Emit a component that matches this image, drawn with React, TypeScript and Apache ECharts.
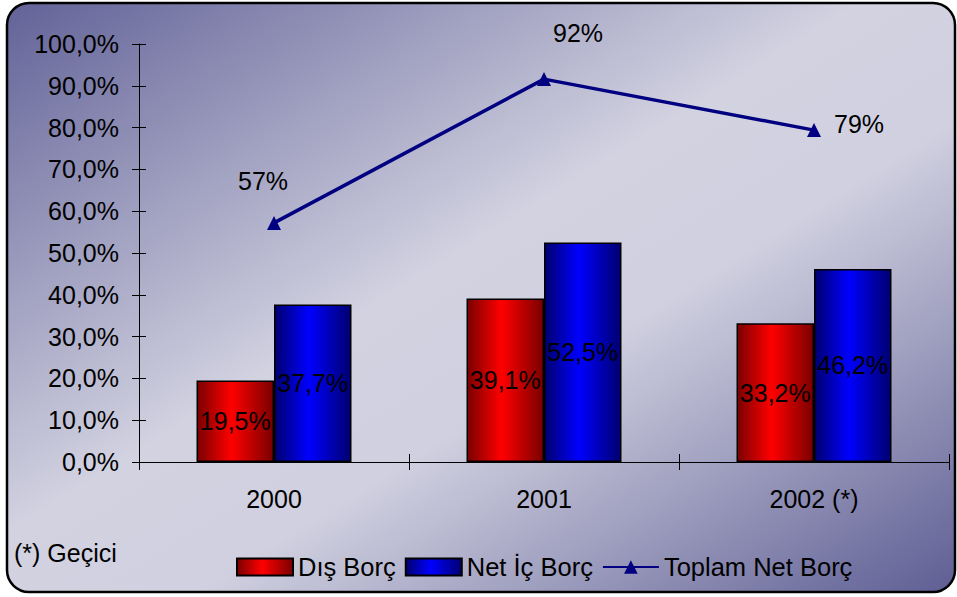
import React, { useEffect, useRef } from "react";
import * as echarts from "echarts";

const categories = ["2000", "2001", "2002 (*)"];
const disBorc = [19.5, 39.1, 33.2];
const netIcBorc = [37.7, 52.5, 46.2];
const toplamNetBorc = [57.2, 91.6, 79.4];
const toplamLabels = ["57%", "92%", "79%"];
const seriesNames = ["Dış Borç", "Net İç Borç", "Toplam Net Borç"];
const footnote = "(*) Geçici";

const FONT = "'Liberation Sans', Arial, Helvetica, sans-serif";

export default function App() {
  const ref = useRef<HTMLDivElement>(null);
  useEffect(() => {
    document.body.style.margin = "0";
    if (!ref.current) return;
    const chart = echarts.init(ref.current, null, { renderer: "svg" });
    const fmtPct = (v: number) => v.toFixed(1).replace(".", ",") + "%";
    const lineOffsets: any[] = [
      { position: "top", offset: [-11, -17] },
      { position: "top", offset: [34, -22] },
      { position: "right", offset: [8, -6] },
    ];
    const redGrad = new echarts.graphic.LinearGradient(0, 0, 1, 0, [
      { offset: 0, color: "#7a0000" },
      { offset: 0.45, color: "#ff0000" },
      { offset: 1, color: "#7a0000" },
    ]);
    const blueGrad = new echarts.graphic.LinearGradient(0, 0, 1, 0, [
      { offset: 0, color: "#000070" },
      { offset: 0.45, color: "#0000ff" },
      { offset: 1, color: "#000070" },
    ]);
    chart.setOption({
      animation: false,
      textStyle: { fontFamily: FONT },
      graphic: [
        {
          type: "rect",
          z: -10,
          silent: true,
          shape: { x: 7, y: 3, width: 948, height: 589, r: 22 },
          style: {
            fill: new echarts.graphic.LinearGradient(0, 0, 1, 1, [
              { offset: 0, color: "#626298" },
              { offset: 0.45, color: "#d2d2e1" },
              { offset: 0.6, color: "#d0d0e0" },
              { offset: 1, color: "#5e5e94" },
            ]),
            stroke: "#000",
            lineWidth: 2.5,
          },
        },
        {
          type: "text",
          left: 14,
          top: 540,
          style: {
            text: footnote,
            fontSize: 25,
            fontFamily: FONT,
            fill: "#000",
          },
        },
      ],
      legend: {
        left: 231,
        top: 549,
        itemWidth: 56,
        itemHeight: 17,
        itemGap: 9,
        textStyle: { fontSize: 25.5, color: "#000", fontFamily: FONT },
        data: [
          { name: seriesNames[0], icon: "rect" },
          { name: seriesNames[1], icon: "rect" },
          { name: seriesNames[2] },
        ],
      },
      grid: { left: 139, right: 8, top: 44, bottom: 135, containLabel: false },
      xAxis: [
        {
          type: "category",
          data: categories,
          axisLine: { lineStyle: { color: "#000", width: 1 } },
          axisTick: { show: true, length: 8, lineStyle: { color: "#000" } },
          axisLabel: { fontSize: 25, color: "#000", margin: 24, fontFamily: FONT },
        },
        {
          type: "category",
          data: categories,
          position: "bottom",
          axisLine: { show: false },
          axisTick: { show: true, inside: true, length: 8, lineStyle: { color: "#000" } },
          axisLabel: { show: false },
        },
      ],
      yAxis: [
        {
          type: "value",
          min: 0,
          max: 100,
          interval: 10,
          splitLine: { show: false },
          axisLine: { show: true, lineStyle: { color: "#000", width: 1 } },
          axisTick: { show: true, length: 7, lineStyle: { color: "#000" } },
          axisLabel: {
            fontSize: 25,
            color: "#000",
            margin: 20,
            fontFamily: FONT,
            formatter: fmtPct,
          },
        },
        {
          type: "value",
          min: 0,
          max: 100,
          interval: 10,
          position: "left",
          splitLine: { show: false },
          axisLine: { show: false },
          axisTick: { show: true, inside: true, length: 7, lineStyle: { color: "#000" } },
          axisLabel: { show: false },
        },
      ],
      series: [
        {
          name: seriesNames[0],
          type: "bar",
          data: disBorc,
          barGap: "0%",
          barCategoryGap: "42.6%",
          itemStyle: { color: redGrad, borderColor: "#000", borderWidth: 1.5, borderRadius: 0 },
          label: {
            show: true,
            position: "inside",
            fontSize: 25,
            color: "#000",
            fontFamily: FONT,
            formatter: (p: any) => fmtPct(p.value),
          },
        },
        {
          name: seriesNames[1],
          type: "bar",
          data: netIcBorc,
          barGap: "0%",
          barCategoryGap: "42.6%",
          itemStyle: { color: blueGrad, borderColor: "#000", borderWidth: 1.5, borderRadius: 0 },
          label: {
            show: true,
            position: "inside",
            fontSize: 25,
            color: "#000",
            fontFamily: FONT,
            formatter: (p: any) => fmtPct(p.value),
          },
        },
        {
          name: seriesNames[2],
          type: "line",
          data: toplamNetBorc.map((v, i) => ({
            value: v,
            label: { ...lineOffsets[i], formatter: toplamLabels[i] },
          })),
          symbol: "triangle",
          symbolSize: 14,
          lineStyle: { color: "#000080", width: 3.5 },
          itemStyle: { color: "#000080" },
          label: {
            show: true,
            fontSize: 25,
            color: "#000",
            fontFamily: FONT,
          },
          z: 5,
        },
      ],
    });
    return () => chart.dispose();
  }, []);
  return (
    <div
      ref={ref}
      style={{ position: "absolute", left: 0, top: 0, width: 957, height: 597 }}
    />
  );
}
